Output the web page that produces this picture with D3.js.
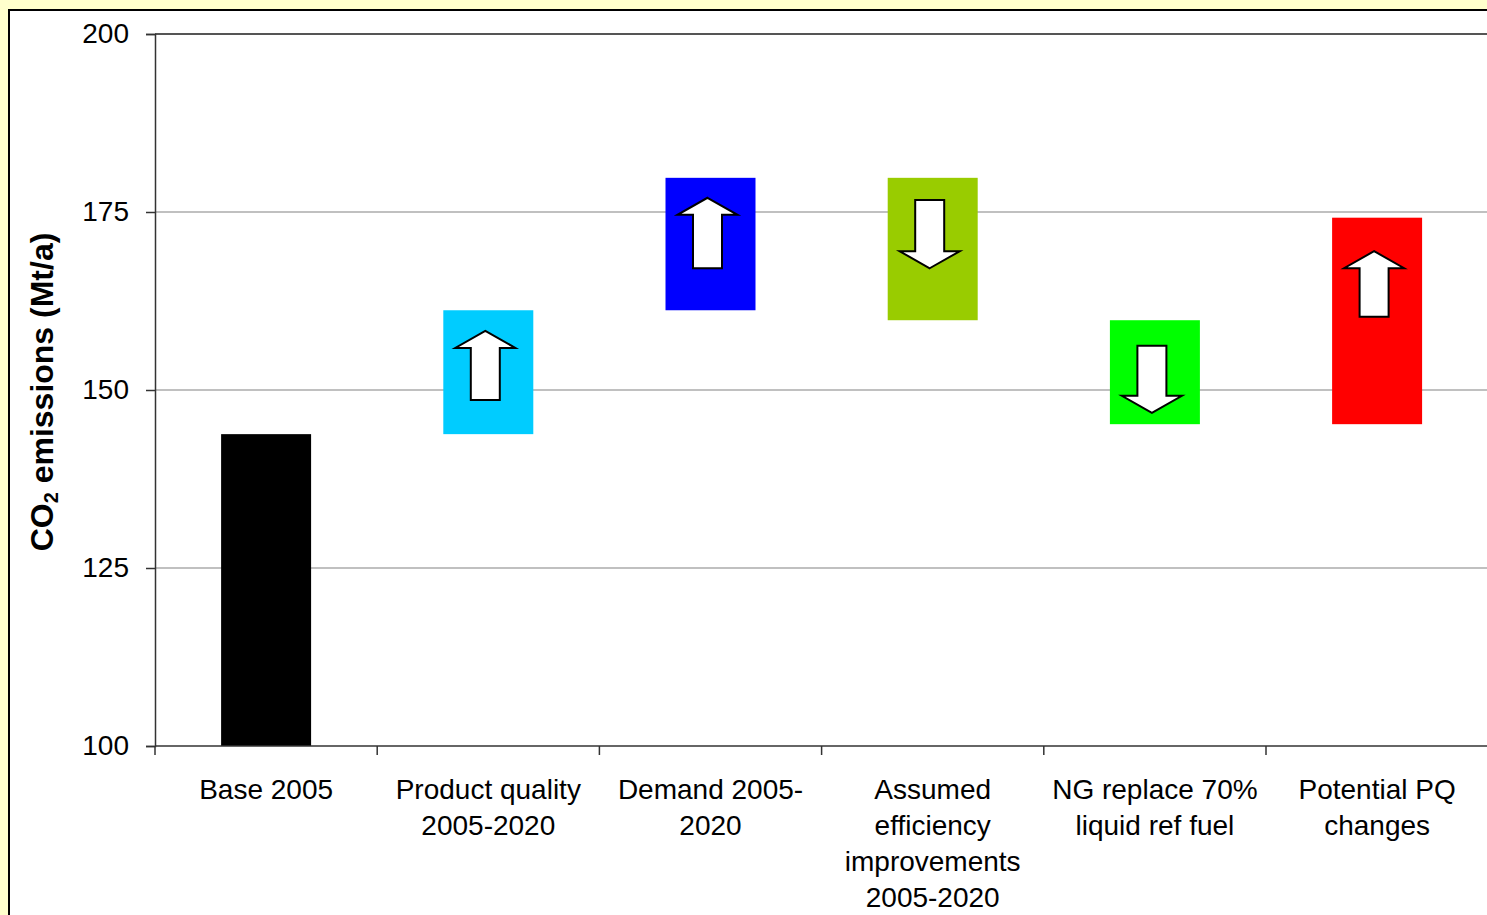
<!DOCTYPE html>
<html>
<head>
<meta charset="utf-8">
<script src="https://cdn.jsdelivr.net/npm/d3@7"></script>
<style>
  html, body { margin: 0; padding: 0; background: #FFFFCC; }
  svg { display: block; }
  text { font-family: "Liberation Sans", Arial, sans-serif; }
</style>
</head>
<body>
<svg id="chart" width="1487" height="915"></svg>
<script>
// ---- data ----
const categories = [
  "Base 2005",
  "Product quality\n2005-2020",
  "Demand 2005-\n2020",
  "Assumed\nefficiency\nimprovements\n2005-2020",
  "NG replace 70%\nliquid ref fuel",
  "Potential PQ\nchanges"
];
const barLow  = [100,   143.8, 161.2, 159.8, 145.2, 145.2];
const barHigh = [143.8, 161.2, 179.8, 179.8, 159.8, 174.2];
const barColors = ["#000000", "#00CCFF", "#0000FF", "#99CC00", "#00FF00", "#FF0000"];
// arrows: tail and tip values (null = no arrow)
const arrowTail = [null, 148.6, 167.1, 176.7, 156.2, 160.3];
const arrowTip  = [null, 158.3, 177.0, 167.1, 146.8, 169.5];
const yTicks = [100, 125, 150, 175, 200];
const yTitle = "emissions (Mt/a)";

// ---- layout ----
const svg = d3.select("#chart");
const mLeft = 155, mTop = 34, mBottom = 746;
const mRight = mLeft + 6 * 222.2;

// background panel
svg.append("rect").attr("x", 0).attr("y", 0).attr("width", 1487).attr("height", 915).attr("fill", "#FFFFCC");
svg.append("rect").attr("x", 9).attr("y", 10).attr("width", 1500).attr("height", 920)
  .attr("fill", "#ffffff").attr("stroke", "#000").attr("stroke-width", 2);

const x = d3.scaleBand().domain(categories).range([mLeft, mRight])
  .paddingInner(0.595).paddingOuter(0.2975);
const y = d3.scaleLinear().domain([100, 200]).range([mBottom, mTop]);

// gridlines
svg.append("g").selectAll("line").data(yTicks.filter(t => t > 100)).join("line")
  .attr("x1", mLeft).attr("x2", mRight)
  .attr("y1", d => y(d)).attr("y2", d => y(d))
  .attr("stroke", d => d === 200 ? "#555555" : "#C0C0C0")
  .attr("stroke-width", d => d === 200 ? 1.6 : 1.2)
  .attr("shape-rendering", "crispEdges");

// bars
svg.append("g").selectAll("rect").data(categories).join("rect")
  .attr("x", d => x(d))
  .attr("width", x.bandwidth())
  .attr("y", (d, i) => y(barHigh[i]))
  .attr("height", (d, i) => y(barLow[i]) - y(barHigh[i]))
  .attr("fill", (d, i) => barColors[i]);

// arrows
const headH = 17, headHalf = 30, shaftHalf = 14.5;
function arrowPath(cx, yTip, yTail) {
  const s = Math.sign(yTail - yTip);
  const yb = yTip + s * headH;
  return `M${cx},${yTip} L${cx + headHalf},${yb} L${cx + shaftHalf},${yb} L${cx + shaftHalf},${yTail} ` +
         `L${cx - shaftHalf},${yTail} L${cx - shaftHalf},${yb} L${cx - headHalf},${yb} Z`;
}
const arrowIdx = categories.map((c, i) => i).filter(i => arrowTip[i] !== null);
svg.append("g").selectAll("path").data(arrowIdx).join("path")
  .attr("d", i => arrowPath(x(categories[i]) + x.bandwidth() / 2 - 3, y(arrowTip[i]), y(arrowTail[i])))
  .attr("fill", "#ffffff").attr("stroke", "#000").attr("stroke-width", 2)
  .attr("stroke-linejoin", "miter");

// y axis
const yAxis = d3.axisLeft(y).tickValues(yTicks).tickSize(9).tickPadding(17).tickFormat(d3.format("d"));
const ga = svg.append("g").attr("transform", `translate(${mLeft},0)`).call(yAxis);
ga.select(".domain").attr("stroke", "#333").attr("stroke-width", 1.5);
ga.selectAll(".tick line").attr("stroke", "#333").attr("stroke-width", 1.5);
ga.selectAll(".tick text").attr("font-size", 28).attr("fill", "#000")
  .attr("font-family", "'Liberation Sans', Arial, sans-serif");

// x axis line and ticks at band boundaries
svg.append("line").attr("x1", mLeft).attr("x2", mRight).attr("y1", mBottom).attr("y2", mBottom)
  .attr("stroke", "#333").attr("stroke-width", 1.5);
const bounds = categories.map(c => x(c) - x.step() * x.paddingOuter());
svg.append("g").selectAll("line").data(bounds).join("line")
  .attr("x1", d => d).attr("x2", d => d).attr("y1", mBottom).attr("y2", mBottom + 9)
  .attr("stroke", "#333").attr("stroke-width", 1.5);

// category labels
const lab = svg.append("g").selectAll("text").data(categories).join("text")
  .attr("text-anchor", "middle").attr("font-size", 28).attr("fill", "#000")
  .attr("transform", d => `translate(${x(d) + x.bandwidth() / 2},0)`);
lab.selectAll("tspan").data(d => d.split("\n")).join("tspan")
  .attr("x", 0).attr("y", (d, i) => 799 + i * 36).text(d => d);

// y title
const t = svg.append("text").attr("transform", "translate(53,392) rotate(-90)")
  .attr("text-anchor", "middle").attr("font-size", 32).attr("font-weight", "bold").attr("fill", "#000");
t.append("tspan").text("CO");
t.append("tspan").attr("font-size", 20).attr("dy", 5).text("2");
t.append("tspan").attr("dy", -5).text(" " + yTitle);
</script>
</body>
</html>
